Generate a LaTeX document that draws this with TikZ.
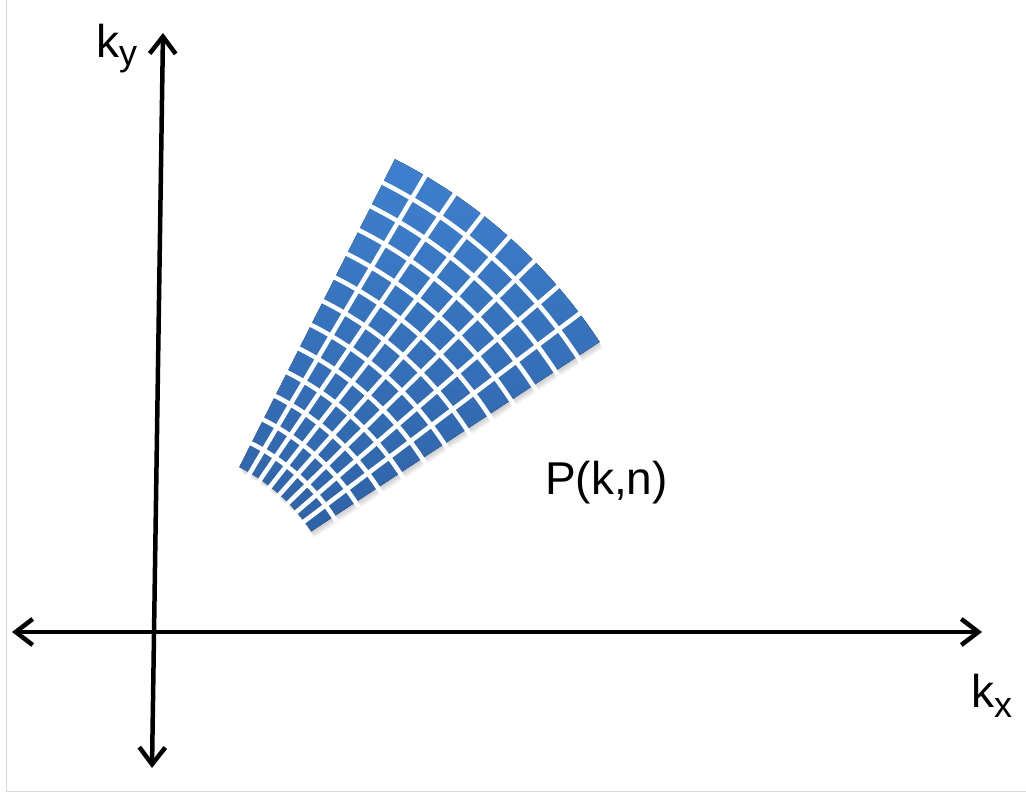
\documentclass[tikz,border=0pt]{standalone}
\usepackage{fontspec}
\setmainfont{Liberation Sans}
\usetikzlibrary{arrows.meta,calc}
\definecolor{gridtop}{RGB}{62,128,206}
\definecolor{gridbot}{RGB}{46,98,166}
\def\ta{33.3}
\def\tb{63.2}
\def\ri{187}
\def\ro{532}
\newcommand\sectpath[1]{($(#1)+(\ta:\ri)$) arc[start angle=\ta,end angle=\tb,radius=\ri] -- ($(#1)+(\tb:\ro)$) arc[start angle=\tb,end angle=\ta,radius=\ro] -- cycle}
\begin{document}
\begin{tikzpicture}[x=1pt,y=1pt,
  barb/.tip={Straight Barb[length=17pt,width=26pt,line width=4.5pt]},
  axis/.style={line width=4.5pt,{barb}-{barb},line cap=round,line join=round},
  lbl/.style={font=\fontsize{46}{50}\selectfont,inner sep=0pt,anchor=base west},
  gap/.style={white,line width=4.5pt}]
\useasboundingbox (0,0) rectangle (1026,794);
\draw[black!15,line width=1pt] (6.5,794) -- (6.5,2) -- (1026,2);
% polar sampling grid
\coordinate (C) at (155,160);
\foreach \d in {1,...,6}{
  \coordinate (S\d) at ($(C)+(0.5*\d,-1.1*\d)$);
  \fill[black,opacity=0.035] \sectpath{S\d};
}
\fill[top color=gridtop,bottom color=gridbot] \sectpath{C};
\foreach \i in {1,...,12}{
  \pgfmathsetmacro\rr{\ri+\i*(\ro-\ri)/13}
  \pgfmathsetmacro\aa{\ta-1.5}
  \pgfmathsetmacro\ab{\tb+1.5}
  \draw[gap] ($(C)+(\aa:\rr)$) arc[start angle=\aa,end angle=\ab,radius=\rr];
}
\foreach \j in {1,...,7}{
  \pgfmathsetmacro\angl{\ta+\j*(\tb-\ta)/8}
  \draw[gap] ($(C)+(\angl:\ri-8)$) -- ($(C)+(\angl:\ro+8)$);
}
% axes
\coordinate (xl) at (12,162);
\coordinate (xr) at (982,162);
\coordinate (yb) at (152,26);
\coordinate (yt) at (163,761);
\draw[axis] (xl) -- (xr);
\draw[axis] (yb) -- (yt);
% labels
\node[lbl] (ky) at (96,736) {k\raisebox{-8pt}{\fontsize{36}{36}\selectfont y}};
\node[lbl] (kx) at (971,86) {k\raisebox{-10pt}{\fontsize{36}{36}\selectfont x}};
\node[lbl] (P) at (545,299) {P(k,n)};
\end{tikzpicture}
\end{document}
